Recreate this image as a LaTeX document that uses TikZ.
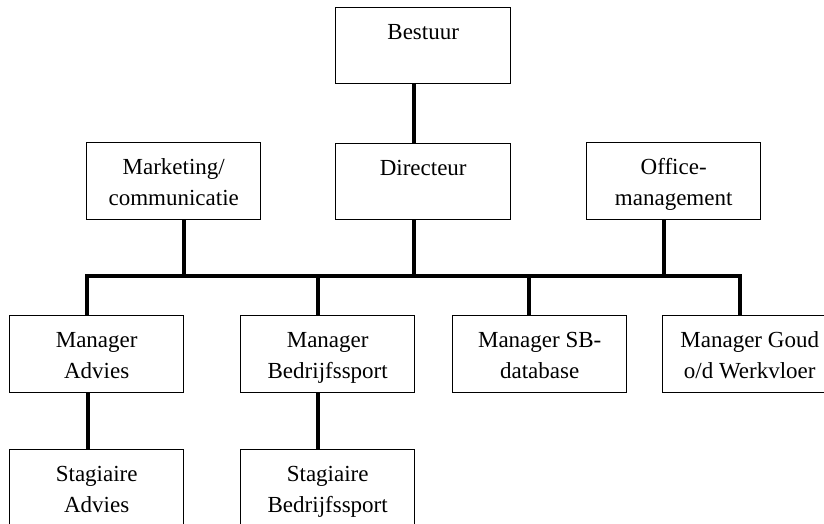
\documentclass[tikz,border=0pt]{standalone}
\usepackage{fontspec}
\setmainfont{Liberation Serif}
\tikzset{
  orgbox/.style={draw=black, line width=1.4pt, rectangle, inner sep=0pt, anchor=north west, fill=white},
  conn/.style={line width=3.8pt, line join=miter},
}
\newcommand{\boxtxt}[1]{\parbox[c][77pt][t]{174pt}{\centering\fontsize{23}{31}\selectfont\rule{0pt}{31.5pt}#1}}
\begin{document}
\begin{tikzpicture}[x=1pt,y=-1pt]
\useasboundingbox (0,0) rectangle (824,524);
\begin{scope}
\clip (0,0) rectangle (824,524);
% boxes
\node[orgbox] (bestuur) at (335,7) {\parbox[c][76pt][t]{175pt}{\centering\fontsize{23}{31}\selectfont\rule{0pt}{31.5pt}Bestuur}};
\node[orgbox] (dir) at (335,143) {\parbox[c][76pt][t]{175pt}{\centering\fontsize{23}{31}\selectfont\rule{0pt}{31.5pt}Directeur}};
\node[orgbox] (mark) at (86,142) {\boxtxt{Marketing/\\communicatie}};
\node[orgbox] (office) at (586,142) {\boxtxt{Office-\\management}};
\node[orgbox] (advies) at (9,315) {\boxtxt{Manager\\Advies}};
\node[orgbox] (bedrijf) at (240,315) {\boxtxt{Manager\\Bedrijfssport}};
\node[orgbox] (sb) at (452,315) {\boxtxt{Manager SB-\\database}};
\node[orgbox] (goud) at (662,315) {\boxtxt{Manager Goud\\o/d Werkvloer}};
\node[orgbox] (stadv) at (9,449) {\boxtxt{Stagiaire\\Advies}};
\node[orgbox] (stbed) at (240,449) {\boxtxt{Stagiaire\\Bedrijfssport}};
% bus line
\coordinate (busL) at (87,276);
\coordinate (busR) at (740,276);
% connectors
\draw[conn] ([xshift=-9.5pt]bestuur.south) -- ([xshift=-9.5pt]dir.north);
\draw[conn] ([xshift=-9.5pt]dir.south) -- ([xshift=-9.5pt]dir.south |- busL);
\draw[conn] ([xshift=10pt]mark.south) -- ([xshift=10pt]mark.south |- busL);
\draw[conn] ([xshift=-10pt]office.south) -- ([xshift=-10pt]office.south |- busL);
\draw[conn] (busL |- advies.north) -- (busL) -- (busR) -- (busR |- goud.north);
\draw[conn] ([xshift=-10pt]bedrijf.north) -- ([xshift=-10pt]bedrijf.north |- busL);
\draw[conn] ([xshift=-11pt]sb.north) -- ([xshift=-11pt]sb.north |- busL);
\draw[conn] ([xshift=-9pt]advies.south) -- ([xshift=-9pt]stadv.north);
\draw[conn] ([xshift=-10pt]bedrijf.south) -- ([xshift=-10pt]stbed.north);
\end{scope}
\end{tikzpicture}
\end{document}
